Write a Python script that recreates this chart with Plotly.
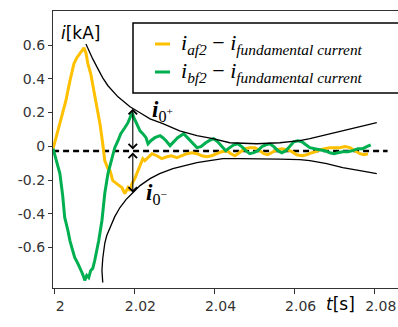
import plotly.graph_objects as go

# ---- data ----
t_af = [1.9997, 2.0006, 2.0019, 2.0029, 2.0039, 2.0049, 2.0056, 2.0064, 2.0069, 2.0074,
        2.0079, 2.0084, 2.0091, 2.0096, 2.0104, 2.0114, 2.0121, 2.0126, 2.0134, 2.0139,
        2.0146, 2.0156, 2.0164, 2.0169, 2.0176, 2.0184, 2.0189, 2.0194, 2.0201, 2.0206,
        2.0214, 2.0221, 2.0226, 2.0234, 2.0244, 2.0256, 2.0268, 2.0281, 2.0293, 2.0306,
        2.0318, 2.0331, 2.0343, 2.0356, 2.0368, 2.0381, 2.0393, 2.0406, 2.0418, 2.0431,
        2.0441, 2.0451, 2.0463, 2.0476, 2.0488, 2.0501, 2.0513, 2.0523, 2.0533, 2.0543,
        2.0556, 2.0568, 2.0581, 2.0593, 2.0605, 2.0618, 2.0630, 2.0643, 2.0653, 2.0663,
        2.0675, 2.0688, 2.0700, 2.0713, 2.0725, 2.0738, 2.0750, 2.0763, 2.0773, 2.0783]
i_af = [-0.014, 0.063, 0.169, 0.27, 0.388, 0.489, 0.524, 0.548, 0.566, 0.583,
        0.554, 0.489, 0.43, 0.370, 0.27, 0.134, 0.015, -0.085, -0.133, -0.144,
        -0.204, -0.221, -0.233, -0.245, -0.28, -0.245, -0.263, -0.221, -0.192, -0.162,
        -0.103, -0.073, -0.085, -0.067, -0.044, -0.056, -0.073, -0.062, -0.056, -0.067,
        -0.056, -0.044, -0.038, -0.044, -0.056, -0.062, -0.056, -0.044, -0.032, -0.026,
        -0.044, -0.056, -0.038, -0.014, -0.008, -0.008, -0.026, -0.044, -0.05, -0.038,
        -0.02, -0.014, -0.02, -0.032, -0.05, -0.056, -0.05, -0.038, -0.032, -0.02,
        -0.014, -0.008, -0.008, -0.008, -0.002, -0.008, -0.026, -0.044, -0.05, -0.044]

t_bf = [1.9997, 2.0006, 2.0014, 2.0021, 2.0026, 2.0034, 2.0039, 2.0046, 2.0051, 2.0059,
        2.0064, 2.0069, 2.0074, 2.0076, 2.0081, 2.0086, 2.0091, 2.0096, 2.0101, 2.0106,
        2.0111, 2.0119, 2.0126, 2.0134, 2.0139, 2.0144, 2.0151, 2.0159, 2.0166, 2.0176,
        2.0184, 2.0189, 2.0194, 2.0199, 2.0206, 2.0214, 2.0221, 2.0229, 2.0234, 2.0241,
        2.0251, 2.0264, 2.0271, 2.0279, 2.0289, 2.0298, 2.0308, 2.0323, 2.0333, 2.0346,
        2.0356, 2.0366, 2.0378, 2.0391, 2.0398, 2.0408, 2.0418, 2.0428, 2.0438, 2.0448,
        2.0458, 2.0468, 2.0478, 2.0488, 2.0498, 2.0508, 2.0518, 2.0528, 2.0538, 2.0548,
        2.0558, 2.0568, 2.0578, 2.0588, 2.0598, 2.0608, 2.0618, 2.0628, 2.0638, 2.0650,
        2.0663, 2.0675, 2.0688, 2.0698, 2.0708, 2.0720, 2.0733, 2.0745, 2.0758, 2.0770,
        2.0780, 2.0790]
i_bf = [-0.014, -0.085, -0.162, -0.292, -0.422, -0.499, -0.559, -0.618, -0.659, -0.695,
        -0.718, -0.748, -0.778, -0.795, -0.766, -0.778, -0.736, -0.724, -0.677, -0.618,
        -0.559, -0.44, -0.28, -0.162, -0.115, -0.085, -0.008, 0.033, 0.075, 0.11,
        0.14, 0.169, 0.199, 0.169, 0.134, 0.092, 0.075, 0.051, 0.015, 0.033,
        0.051, 0.063, 0.051, 0.033, 0.004, 0.027, 0.051, 0.075, 0.051, 0.015,
        -0.008, -0.002, 0.021, 0.039, 0.045, 0.027, -0.002, -0.026, -0.008, 0.009,
        0.015, -0.002, -0.026, -0.044, -0.038, -0.026, -0.002, 0.009, 0.015, -0.002,
        -0.026, -0.038, -0.026, 0.004, 0.027, 0.033, 0.027, 0.009, -0.008, -0.014,
        -0.02, -0.026, -0.038, -0.044, -0.038, -0.032, -0.032, -0.026, -0.014, -0.014,
        -0.002, 0.009]

t_up = [2.0079, 2.0084, 2.0096, 2.0109, 2.0121, 2.0134, 2.0146, 2.0159, 2.0171, 2.0189,
        2.0214, 2.0239, 2.0271, 2.0313, 2.0356, 2.0396, 2.0438, 2.0505, 2.0563, 2.0613,
        2.0638, 2.0680, 2.0720, 2.0763, 2.0805]
env_up = [0.607, 0.578, 0.518, 0.459, 0.406, 0.359, 0.329, 0.293, 0.270, 0.234,
          0.199, 0.163, 0.134, 0.092, 0.063, 0.045, 0.021, 0.015, 0.021, 0.033,
          0.045, 0.069, 0.092, 0.116, 0.140]

t_lo = [2.0121, 2.0119, 2.0121, 2.0126, 2.0131, 2.0139, 2.0151, 2.0164, 2.0179, 2.0196,
        2.0214, 2.0239, 2.0263, 2.0296, 2.0326, 2.0356, 2.0388, 2.0421, 2.0463, 2.0513,
        2.0563, 2.0613, 2.0638, 2.0680, 2.0720, 2.0763, 2.0805]
env_lo = [-0.807, -0.736, -0.665, -0.576, -0.529, -0.482, -0.417, -0.363, -0.316, -0.275,
          -0.233, -0.192, -0.162, -0.133, -0.115, -0.097, -0.085, -0.073, -0.073, -0.073,
          -0.076, -0.079, -0.085, -0.103, -0.127, -0.144, -0.162]

t_zero = [1.9997, 2.0832]
zero_line = [-0.028, -0.028]

t_arrow = 2.0196
i_arrow_top = 0.222
i_arrow_mid = -0.028
i_arrow_bot = -0.275

x_ticks = [2.0, 2.02, 2.04, 2.06, 2.08]
x_ticktext = ["2", "2.02", "2.04", "2.06", "2.08"]
y_ticks = [-0.6, -0.4, -0.2, 0, 0.2, 0.4, 0.6]
y_ticktext = ["-0.6", "-0.4", "-0.2", "0", "0.2", "0.4", "0.6"]

legend_labels = ["<i>i<sub>af2</sub></i> − <i>i<sub>fundamental current</sub></i>",
                 "<i>i<sub>bf2</sub></i> − <i>i<sub>fundamental current</sub></i>"]

ORANGE = "#FFC000"
GREEN = "#00B050"
AXC = "#333333"

# plot-area geometry in pixels (used only to place legend box / labels)
L, R, T, B = 53, 398, 11, 288
def px(xp):
    return (xp - L) / (R - L)
def py(yp):
    return (B - yp) / (B - T)

fig = go.Figure()
fig.add_trace(go.Scatter(x=t_zero, y=zero_line, mode="lines", showlegend=False,
                         line=dict(color="black", width=2.6, dash="6px,4px")))
fig.add_trace(go.Scatter(x=t_af, y=i_af, mode="lines", name=legend_labels[0],
                         showlegend=False, line=dict(color=ORANGE, width=3)))
fig.add_trace(go.Scatter(x=t_bf, y=i_bf, mode="lines", name=legend_labels[1],
                         showlegend=False, line=dict(color=GREEN, width=3)))
fig.add_trace(go.Scatter(x=t_up, y=env_up, mode="lines", showlegend=False,
                         line=dict(color="black", width=1.3)))
fig.add_trace(go.Scatter(x=t_lo, y=env_lo, mode="lines", showlegend=False,
                         line=dict(color="black", width=1.3)))

# double arrows
for y_end in (i_arrow_top, i_arrow_bot):
    fig.add_annotation(x=t_arrow, y=y_end, ax=t_arrow, ay=i_arrow_mid,
                       xref="x", yref="y", axref="x", ayref="y", text="",
                       showarrow=True, arrowhead=4, startarrowhead=4, arrowside="end+start",
                       arrowsize=1.5, startarrowsize=1.5, arrowwidth=1.1, arrowcolor="black")

fig.add_annotation(x=2.0269, y=0.211, xref="x", yref="y", showarrow=False,
                   text="<b><i>i</i></b><sub>0<sup>+</sup></sub>",
                   font=dict(family="Liberation Serif", size=23, color="black"))
fig.add_annotation(x=2.0256, y=-0.28, xref="x", yref="y", showarrow=False,
                   text="<b><i>i</i></b><sub>0<sup>−</sup></sub>",
                   font=dict(family="Liberation Serif", size=23, color="black"))
fig.add_annotation(x=2.0066, y=0.672, xref="x", yref="y", showarrow=False,
                   text="<i>i</i>[kA]",
                   font=dict(family="DejaVu Sans", size=17, color="black"))
fig.add_annotation(x=px(357), y=py(316), xref="paper", yref="paper",
                   showarrow=False, text="<i>t</i>[s]",
                   font=dict(family="DejaVu Sans", size=17, color="black"))

# legend box (drawn manually to match the reference layout)
fig.add_shape(type="rect", xref="paper", yref="paper", x0=px(133), x1=px(420),
              y0=py(93), y1=py(23), line=dict(color="black", width=1.5),
              fillcolor="white", layer="above")
for yy, col, lab in ((44, ORANGE, legend_labels[0]), (72, GREEN, legend_labels[1])):
    fig.add_shape(type="line", xref="paper", yref="paper", x0=px(155), x1=px(170),
                  y0=py(yy), y1=py(yy), line=dict(color=col, width=3), layer="above")
    fig.add_annotation(x=px(179), y=py(yy), xref="paper", yref="paper", showarrow=False,
                       xanchor="left", yanchor="middle", text=lab,
                       font=dict(family="Liberation Serif", size=22, color="black"))

fig.update_layout(
    width=398, height=327,
    margin=dict(l=L, r=398 - R, t=T, b=327 - B, autoexpand=False),
    plot_bgcolor="white", paper_bgcolor="white",
    showlegend=False,
    font=dict(family="DejaVu Sans", size=14, color=AXC),
    xaxis=dict(range=[1.99968, 2.0858], tickvals=x_ticks, ticktext=x_ticktext,
               automargin=False,
               showgrid=False, zeroline=False, showline=True, linecolor=AXC, linewidth=1.3,
               mirror=True, ticks="outside", ticklen=5, tickcolor=AXC, tickwidth=1.2,
               ticklabelshift=6, tickfont=dict(size=14, color=AXC)),
    yaxis=dict(range=[-0.84, 0.802], tickvals=y_ticks, ticktext=y_ticktext,
               automargin=False,
               showgrid=False, zeroline=False, showline=True, linecolor=AXC, linewidth=1.3,
               ticks="outside", ticklen=4, tickcolor=AXC, tickwidth=1.2,
               tickfont=dict(size=14, color=AXC)),
)

fig.write_html("out.html", config={"displayModeBar": False},
               post_script="document.body.style.margin='0';document.body.style.overflow='hidden';")
